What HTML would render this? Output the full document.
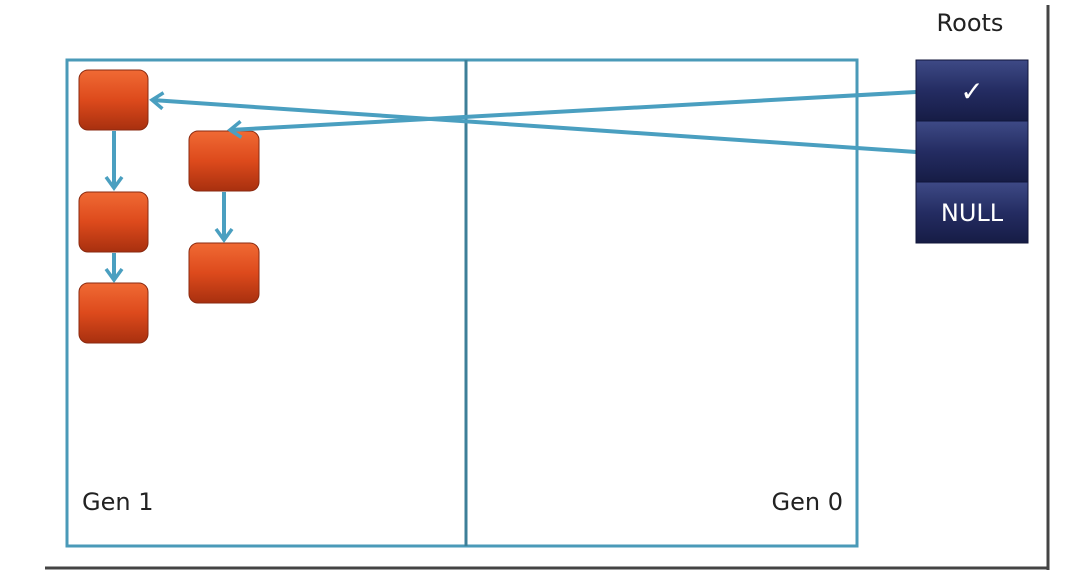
<!DOCTYPE html>
<html><head><meta charset="utf-8"><style>
body{margin:0;background:#fff;}
svg{display:block;font-family:"DejaVu Sans","Liberation Sans",sans-serif;}
</style></head><body>
<svg width="1068" height="580" viewBox="0 0 1068 580">
<defs>
<linearGradient id="og" x1="0" y1="0" x2="0" y2="1">
<stop offset="0" stop-color="#f06a34"/><stop offset="0.5" stop-color="#dd4a1c"/><stop offset="1" stop-color="#a8300f"/></linearGradient>
<linearGradient id="ng" x1="0" y1="0" x2="0" y2="1">
<stop offset="0" stop-color="#3e4a86"/><stop offset="0.5" stop-color="#242c62"/><stop offset="1" stop-color="#161c45"/></linearGradient>
<marker id="ah" markerWidth="16" markerHeight="20" refX="12" refY="10" orient="auto" markerUnits="userSpaceOnUse">
<path d="M1,2 L12,10 L1,18" fill="none" stroke="#4a9fc0" stroke-width="3.5"/></marker>
</defs>
<line x1="1048" y1="5" x2="1048" y2="570" stroke="#444" stroke-width="3"/>
<line x1="45" y1="568" x2="1048" y2="568" stroke="#444" stroke-width="3"/>
<rect x="67" y="60" width="790" height="486" fill="none" stroke="#4a9ab8" stroke-width="3"/>
<line x1="466" y1="60" x2="466" y2="546" stroke="#3d7f98" stroke-width="3"/>
<text x="82" y="510" font-size="24" fill="#222">Gen 1</text>
<text x="843" y="510" font-size="24" fill="#222" text-anchor="end">Gen 0</text>
<text x="970" y="31" font-size="24" fill="#222" text-anchor="middle">Roots</text>
<g><rect x="79" y="70" width="69" height="60" rx="9" fill="url(#og)" stroke="#8a2a10"/></g>
<g><rect x="79" y="192" width="69" height="60" rx="9" fill="url(#og)" stroke="#8a2a10"/></g>
<g><rect x="79" y="283" width="69" height="60" rx="9" fill="url(#og)" stroke="#8a2a10"/></g>
<g><rect x="189" y="131" width="70" height="60" rx="9" fill="url(#og)" stroke="#8a2a10"/></g>
<g><rect x="189" y="243" width="70" height="60" rx="9" fill="url(#og)" stroke="#8a2a10"/></g>
<g stroke="#4a9fc0" stroke-width="4" fill="none" marker-end="url(#ah)">
<line x1="114" y1="131" x2="114" y2="188"/>
<line x1="114" y1="253" x2="114" y2="280"/>
<line x1="224" y1="192" x2="224" y2="240"/>
<line x1="916" y1="152" x2="152" y2="100"/>
<line x1="916" y1="92" x2="230" y2="130"/>
</g>
<g>
<rect x="916" y="60" width="112" height="61" fill="url(#ng)" stroke="#10153a"/>
<rect x="916" y="121" width="112" height="61" fill="url(#ng)" stroke="#10153a"/>
<rect x="916" y="182" width="112" height="61" fill="url(#ng)" stroke="#10153a"/>
<text x="972" y="101" font-size="28" fill="#fff" text-anchor="middle">✓</text>
<text x="972" y="221" font-size="24" fill="#fff" text-anchor="middle">NULL</text>
</g>
</svg>
</body></html>
